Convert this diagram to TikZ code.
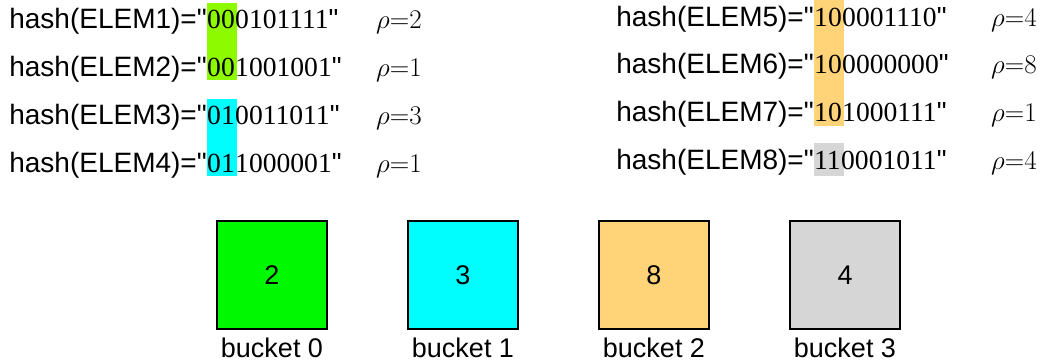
\RequirePackage{fix-cm}
\documentclass[tikz,border=0pt]{standalone}
\usepackage{fontspec}
\setmainfont{Liberation Sans}[Ligatures=TeXOff]
\newfontfamily\bitfont{Liberation Serif}[Ligatures=TeXOff]
\usepackage{tikz}
\usetikzlibrary{positioning}
\definecolor{hllime}{HTML}{8EFA00}
\definecolor{hlspring}{HTML}{00F900}
\definecolor{hlaqua}{HTML}{00FDFF}
\definecolor{hlmelon}{HTML}{FFD479}
\definecolor{hlsilver}{HTML}{D6D6D6}
\tikzset{%
  hash text/.style={%
    anchor=base east,
    inner sep=0pt,
    font=\fontsize{28}{32}\selectfont
  }
}
\tikzset{%
  bits text/.style={%
    anchor=base west,
    inner sep=0pt,
    font=\fontsize{27.6}{32}\bitfont
  }
}
\tikzset{%
  rho text/.style={%
    anchor=base west,
    inner sep=0pt,
    font=\fontsize{27}{32}\selectfont
  }
}
\tikzset{%
  bucket/.style={%
    draw,
    line width=1.5pt,
    minimum width=110pt,
    minimum height=108pt,
    inner sep=0pt,
    font=\fontsize{27}{32}\selectfont
  }
}
\tikzset{%
  bucket name/.style={%
    inner sep=0pt,
    font=\fontsize{27}{32}\selectfont
  }
}

\begin{document}
\begin{tikzpicture}[x=1pt,y=-1pt]
  \useasboundingbox (0,0) rectangle (1047,363);
  % leading bits
  \fill [hllime] (207,3) rectangle (237,80);
  \fill [hlaqua] (207,99) rectangle (237,176);
  \fill [hlmelon] (814,0) rectangle (844,126);
  \fill [hlsilver] (814,143) rectangle (844,176);
  % left column
  \node [hash text] (h1) at (207,29) {hash(ELEM1)="};
  \node [bits text] (k1) at (h1.base east) {00};
  \node [bits text] (r1) at (k1.base east) {0101111{\normalfont"}};
  \node [rho text] (q1) at (376,29) {$\rho{=}2$};
  \node [hash text] (h2) at (207,77) {hash(ELEM2)="};
  \node [bits text] (k2) at (h2.base east) {00};
  \node [bits text] (r2) at (k2.base east) {1001001{\normalfont"}};
  \node [rho text] (q2) at (376,77) {$\rho{=}1$};
  \node [hash text] (h3) at (207,125) {hash(ELEM3)="};
  \node [bits text] (k3) at (h3.base east) {01};
  \node [bits text] (r3) at (k3.base east) {0011011{\normalfont"}};
  \node [rho text] (q3) at (376,125) {$\rho{=}3$};
  \node [hash text] (h4) at (207,173) {hash(ELEM4)="};
  \node [bits text] (k4) at (h4.base east) {01};
  \node [bits text] (r4) at (k4.base east) {1000001{\normalfont"}};
  \node [rho text] (q4) at (376,173) {$\rho{=}1$};
  % right column
  \node [hash text] (h5) at (814,27) {hash(ELEM5)="};
  \node [bits text] (k5) at (h5.base east) {10};
  \node [bits text] (r5) at (k5.base east) {0001110{\normalfont"}};
  \node [rho text] (q5) at (991,27) {$\rho{=}4$};
  \node [hash text] (h6) at (814,74) {hash(ELEM6)="};
  \node [bits text] (k6) at (h6.base east) {10};
  \node [bits text] (r6) at (k6.base east) {0000000{\normalfont"}};
  \node [rho text] (q6) at (991,74) {$\rho{=}8$};
  \node [hash text] (h7) at (814,122) {hash(ELEM7)="};
  \node [bits text] (k7) at (h7.base east) {10};
  \node [bits text] (r7) at (k7.base east) {1000111{\normalfont"}};
  \node [rho text] (q7) at (991,122) {$\rho{=}1$};
  \node [hash text] (h8) at (814,170) {hash(ELEM8)="};
  \node [bits text] (k8) at (h8.base east) {11};
  \node [bits text] (r8) at (k8.base east) {0001011{\normalfont"}};
  \node [rho text] (q8) at (991,170) {$\rho{=}4$};
  % buckets
  \node [bucket, fill=hlspring] (b0) at (272,275) {2};
  \node [bucket, fill=hlaqua] (b1) at (463,275) {3};
  \node [bucket, fill=hlmelon] (b2) at (654,275) {8};
  \node [bucket, fill=hlsilver] (b3) at (845,275) {4};
  \node [bucket name, below=8pt of b0] (n0) {bucket 0};
  \node [bucket name, below=8pt of b1] (n1) {bucket 1};
  \node [bucket name, below=8pt of b2] (n2) {bucket 2};
  \node [bucket name, below=8pt of b3] (n3) {bucket 3};
\end{tikzpicture}
\end{document}
